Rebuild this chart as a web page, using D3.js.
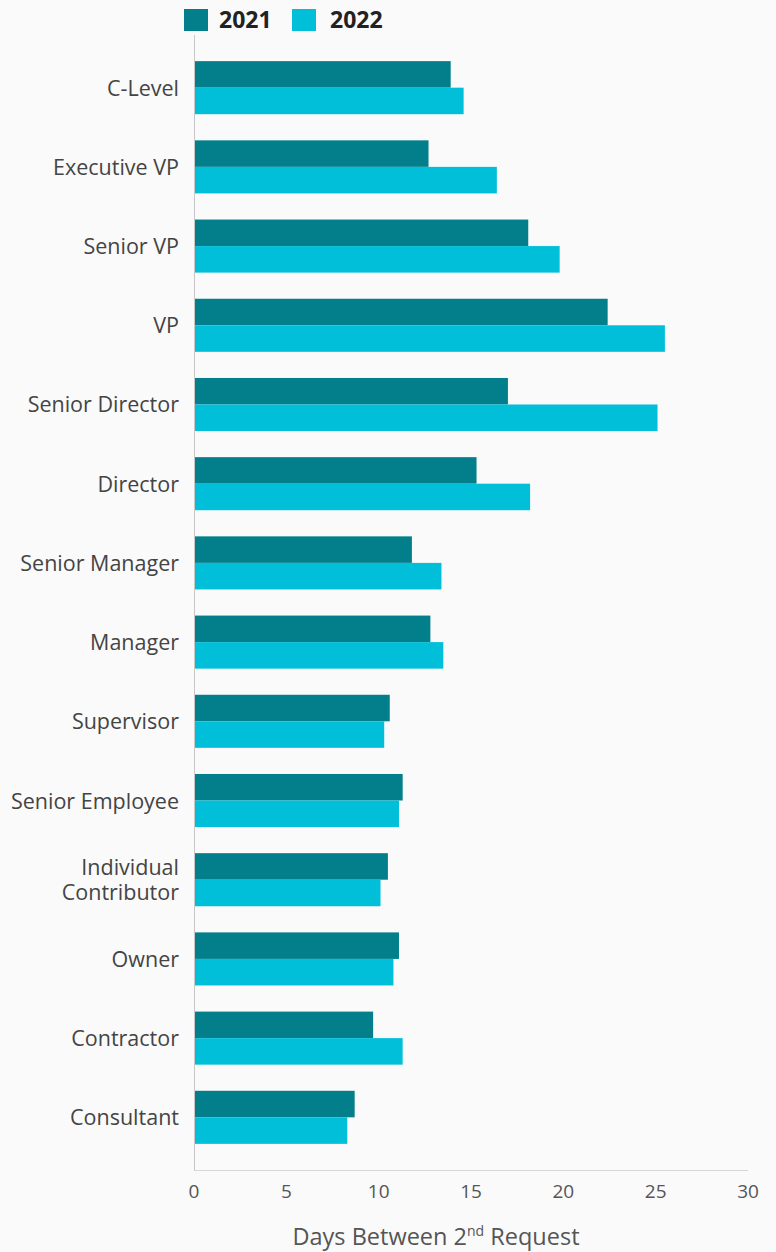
<!DOCTYPE html>
<html>
<head>
<meta charset="utf-8">
<script src="https://cdn.jsdelivr.net/npm/d3@7/dist/d3.min.js"></script>
<style>
  html, body { margin: 0; padding: 0; background: #fafafa; }
  svg { display: block; font-family: "Open Sans", "Noto Sans", sans-serif; }
</style>
</head>
<body>
<svg id="chart" width="776" height="1252"></svg>
<script>
const categories = [
  "C-Level", "Executive VP", "Senior VP", "VP", "Senior Director", "Director",
  "Senior Manager", "Manager", "Supervisor", "Senior Employee",
  "Individual Contributor", "Owner", "Contractor", "Consultant"
];
const values2021 = [13.9, 12.7, 18.1, 22.4, 17.0, 15.3, 11.8, 12.8, 10.6, 11.3, 10.5, 11.1, 9.7, 8.7];
const values2022 = [14.6, 16.4, 19.8, 25.5, 25.1, 18.2, 13.4, 13.5, 10.3, 11.1, 10.1, 10.8, 11.3, 8.3];
const seriesNames = ["2021", "2022"];
const xTicks = [0, 5, 10, 15, 20, 25, 30];

const colors = { "2021": "#027f8a", "2022": "#02bfd9" };

const svg = d3.select("#chart");
const margin = { left: 194, right: 28, top: 35, bottom: 82 };
const W = 776, H = 1252;

const x = d3.scaleLinear().domain([0, 30]).range([margin.left, W - margin.right]);
const y = d3.scaleBand().domain(categories).range([margin.top, H - margin.bottom])
  .paddingInner(0.33).paddingOuter(0.33);
const sub = d3.scaleBand().domain(seriesNames).range([0, y.bandwidth()]);

const rows = categories.map((c, i) => ({ cat: c, vals: [
  { key: "2021", v: values2021[i] }, { key: "2022", v: values2022[i] }
]}));

// bars
const g = svg.append("g");
g.selectAll("g.row").data(rows).join("g")
  .attr("class", "row")
  .attr("transform", d => `translate(0,${y(d.cat)})`)
  .selectAll("rect").data(d => d.vals).join("rect")
  .attr("x", x(0))
  .attr("y", d => sub(d.key))
  .attr("width", d => x(d.v) - x(0))
  .attr("height", sub.bandwidth())
  .attr("fill", d => colors[d.key]);

// axes lines
svg.append("line")
  .attr("x1", x(0)).attr("x2", x(30))
  .attr("y1", H - margin.bottom + 0.5).attr("y2", H - margin.bottom + 0.5)
  .attr("stroke", "#d6d6d6").attr("stroke-width", 1);
svg.append("line")
  .attr("x1", x(0) + 0.5).attr("x2", x(0) + 0.5)
  .attr("y1", margin.top).attr("y2", H - margin.bottom)
  .attr("stroke", "#c8c8c8").attr("stroke-width", 1);

// x tick labels
svg.append("g").selectAll("text").data(xTicks).join("text")
  .attr("x", d => x(d))
  .attr("y", H - margin.bottom + 28)
  .attr("text-anchor", "middle")
  .attr("font-size", 19)
  .attr("fill", "#555")
  .text(d => d);

// x title
const title = svg.append("text")
  .attr("x", 436).attr("y", 1245)
  .attr("text-anchor", "middle")
  .attr("font-size", 23.5)
  .attr("fill", "#555");
title.append("tspan").text("Days Between 2");
title.append("tspan").attr("font-size", 14).attr("dy", -9).text("nd");
title.append("tspan").attr("dy", 9).text(" Request");

// category labels
const labels = svg.append("g").selectAll("text").data(categories).join("text")
  .attr("text-anchor", "end")
  .attr("font-size", 21.5)
  .attr("fill", "#444");
labels.each(function(d) {
  const t = d3.select(this);
  const cy = y(d) + y.bandwidth() / 2;
  const lines = d === "Individual Contributor" ? ["Individual", "Contributor"] : [d];
  const lh = 25;
  lines.forEach((ln, i) => {
    t.append("tspan")
      .attr("x", x(0) - 15)
      .attr("y", cy + 8 - (lines.length - 1) * lh / 2 + i * lh)
      .text(ln);
  });
});

// legend
const legend = svg.append("g");
const legendItems = [
  { key: "2021", sx: 184, tx: 219 },
  { key: "2022", sx: 292, tx: 330 }
];
legend.selectAll("rect").data(legendItems).join("rect")
  .attr("x", d => d.sx).attr("y", 9).attr("width", 24).attr("height", 22)
  .attr("fill", d => colors[d.key]);
legend.selectAll("text").data(legendItems).join("text")
  .attr("x", d => d.tx).attr("y", 28)
  .attr("font-size", 23).attr("font-weight", "bold").attr("fill", "#222")
  .text(d => d.key);
</script>
</body>
</html>
